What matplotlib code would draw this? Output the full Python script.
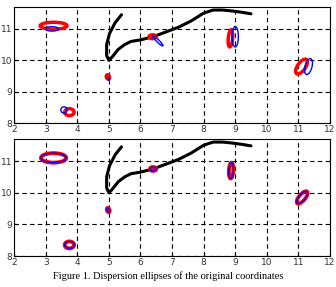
import matplotlib
matplotlib.use("Agg")
import matplotlib.pyplot as plt
from matplotlib.patches import Ellipse

# trajectory (black curve)
traj_x = [5.4, 5.2, 5.02, 4.93, 4.93, 5.0, 5.1, 5.3, 5.5, 5.7, 6.0, 6.4, 6.8, 7.2, 7.6, 8.0, 8.3, 8.6, 8.9, 9.2, 9.5]
traj_y = [11.45, 11.2, 10.85, 10.5, 10.15, 10.0, 10.1, 10.35, 10.5, 10.6, 10.65, 10.75, 10.9, 11.05, 11.25, 11.5, 11.6, 11.6, 11.57, 11.53, 11.48]

# top panel: red ellipses (cx, cy, width, height, angle)
top_red_cx = [3.25, 3.75, 4.97, 6.38, 8.85, 11.1]
top_red_cy = [11.1, 8.35, 9.47, 10.75, 10.7, 9.8]
top_red_w = [0.85, 0.3, 0.1, 0.22, 0.14, 0.25]
top_red_h = [0.22, 0.22, 0.14, 0.12, 0.55, 0.55]
top_red_a = [0, 0, 20, 0, -5, -35]

# top panel: blue ellipses
top_blue_cx = [3.2, 3.58, 5.0, 6.55, 9.0, 11.32]
top_blue_cy = [11.0, 8.42, 9.4, 10.62, 10.75, 9.8]
top_blue_w = [0.42, 0.2, 0.05, 0.08, 0.2, 0.22]
top_blue_h = [0.14, 0.2, 0.06, 0.45, 0.65, 0.52]
top_blue_a = [0, 0, 0, 45, 0, -15]

# bottom panel: red and blue ellipses (coinciding)
bot_cx = [3.25, 3.75, 4.98, 6.4, 8.87, 11.12]
bot_cy = [11.1, 8.35, 9.45, 10.75, 10.7, 9.85]
bot_w = [0.8, 0.3, 0.08, 0.2, 0.14, 0.2]
bot_h = [0.3, 0.22, 0.14, 0.12, 0.5, 0.48]
bot_a = [0, 0, 20, 0, -3, -40]

xticks = list(range(2, 13))
yticks = [8, 9, 10, 11]

fig = plt.figure(figsize=(3.36, 2.87), dpi=100)
ax1 = fig.add_axes([0.042, 0.571, 0.940, 0.405])
ax2 = fig.add_axes([0.042, 0.108, 0.940, 0.408])


def style(ax):
    ax.set_xlim(2, 12)
    ax.set_ylim(8, 11.7)
    ax.set_xticks(xticks)
    ax.set_yticks(yticks)
    ax.tick_params(labelsize=6.5, length=2, direction='in', pad=1.5, colors='black', labelcolor='#333333')
    ax.grid(True, color='black', linestyle=(0, (4, 3)), linewidth=0.8)
    for s in ax.spines.values():
        s.set_linewidth(0.8)
        s.set_color('black')
    ax.plot(traj_x, traj_y, color='black', linewidth=2.2, solid_capstyle='round', zorder=3)


style(ax1)
style(ax2)

for cx, cy, w, h, a in zip(top_red_cx, top_red_cy, top_red_w, top_red_h, top_red_a):
    ax1.add_patch(Ellipse((cx, cy), w, h, angle=a, fill=False, edgecolor='red', linewidth=2.5, zorder=4))
for cx, cy, w, h, a in zip(top_blue_cx, top_blue_cy, top_blue_w, top_blue_h, top_blue_a):
    ax1.add_patch(Ellipse((cx, cy), w, h, angle=a, fill=False, edgecolor='blue', linewidth=1.0, zorder=5))

for cx, cy, w, h, a in zip(bot_cx, bot_cy, bot_w, bot_h, bot_a):
    ax2.add_patch(Ellipse((cx, cy), w, h, angle=a, fill=False, edgecolor='red', linewidth=2.8, zorder=4))
    ax2.add_patch(Ellipse((cx, cy), w, h, angle=a, fill=False, edgecolor='blue', linewidth=1.0, zorder=5))

fig.text(0.5, 0.02, "Figure 1. Dispersion ellipses of the original coordinates",
         ha='center', va='bottom', fontsize=7.5, family=['Liberation Serif', 'DejaVu Serif'])

fig.savefig("out.png", dpi=100)
